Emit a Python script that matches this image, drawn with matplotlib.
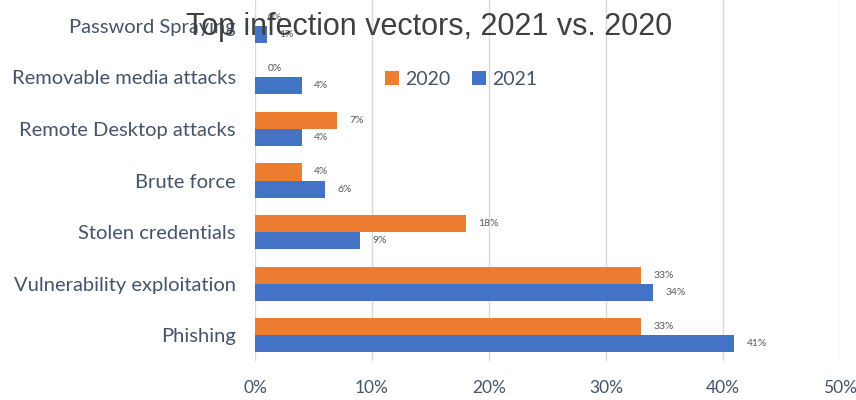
#!/usr/bin/env python3

import numpy as np
import matplotlib.pyplot as plt


CATEGORIES = [
    "Phishing",
    "Vulnerability exploitation",
    "Stolen credentials",
    "Brute force",
    "Remote Desktop attacks",
    "Removable media attacks",
    "Password Spraying",
]
VALUES_2020 = [33, 33, 18, 4, 7, 0, 0]
VALUES_2021 = [41, 34, 9, 6, 4, 4, 1]
X_TICKS = [0, 10, 20, 30, 40, 50]

ORANGE = "#ED7D31"
BLUE = "#4472C4"
TEXT = "#44546A"
LABEL = "#595959"


def main():
    plt.rcParams["font.family"] = ["Lato", "DejaVu Sans"]
    fig = plt.figure(figsize=(8.56, 4.0), dpi=100)
    ax = fig.add_axes([0.298, 0.0975, 0.683, 0.9025])

    y = np.arange(len(CATEGORIES))
    h = 0.33
    bars20 = ax.barh(y + h / 2, VALUES_2020, height=h, color=ORANGE, label="2020", zorder=3)
    bars21 = ax.barh(y - h / 2, VALUES_2021, height=h, color=BLUE, label="2021", zorder=3)

    for bars in (bars20, bars21):
        for b in bars:
            w = b.get_width()
            ax.annotate(f"{w:.0f}%", (w, b.get_y() + b.get_height() / 2),
                        xytext=(9, 0), textcoords="offset points",
                        va="center", ha="left", fontsize=7.5, color=LABEL)

    ax.set_xlim(0, 50)
    ax.set_ylim(-0.5, len(CATEGORIES) - 0.5)
    ax.set_xticks(X_TICKS)
    ax.set_xticklabels([f"{t}%" for t in X_TICKS], fontsize=12.5, color=TEXT)
    ax.set_yticks(y)
    ax.set_yticklabels(CATEGORIES, fontsize=14.5, color=TEXT)
    ax.tick_params(length=0, pad=14)
    ax.tick_params(axis="y", pad=14)
    ax.grid(axis="x", color="#D9D9D9", linewidth=1, zorder=0)
    for s in ax.spines.values():
        s.set_visible(False)

    ax.legend(loc="center", bbox_to_anchor=(0.352, 0.78), ncol=2, frameon=False,
              fontsize=14, labelcolor=TEXT, handlelength=0.75, handleheight=0.75,
              handletextpad=0.3, columnspacing=1.1)

    fig.text(0.501, 0.932, "Top infection vectors, 2021 vs. 2020", ha="center", va="center",
             fontsize=22, color="#404040", family=["Liberation Sans", "DejaVu Sans"])

    fig.savefig("out.png", dpi=100)
    plt.close(fig)


if __name__ == "__main__":
    main()
